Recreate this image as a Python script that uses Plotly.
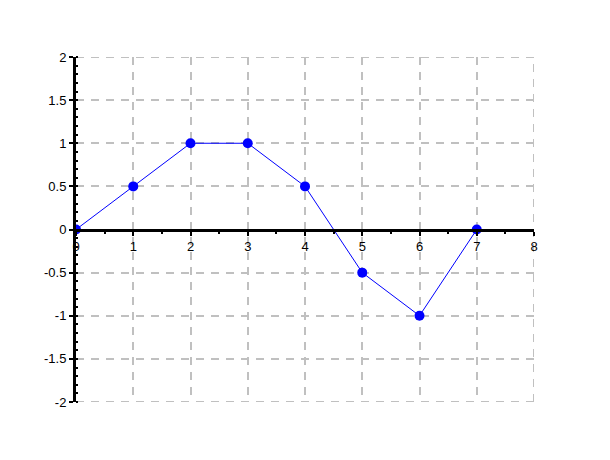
import plotly.graph_objects as go

x_vals = [0, 1, 2, 3, 4, 5, 6, 7]
y_vals = [0, 0.5, 1, 1, 0.5, -0.5, -1, 0]

x_ticks = [0, 1, 2, 3, 4, 5, 6, 7, 8]
y_ticks = [-2, -1.5, -1, -0.5, 0, 0.5, 1, 1.5, 2]
y_tick_text = ["-2", "-1.5", "-1", "-0.5", "0", "0.5", "1", "1.5", "2"]

X_RANGE = [0, 8]
Y_RANGE = [-2, 2]
GRID_COLOR = "#C0C0C0"
GRID_DASH = "8px,7px"

fig = go.Figure()
fig.add_trace(go.Scatter(
    x=x_vals, y=y_vals, mode="lines+markers",
    line=dict(color="#0000FF", width=1),
    marker=dict(color="#0000FF", size=10),
    showlegend=False, cliponaxis=True,
))

font = dict(family="Liberation Sans, Arial, sans-serif", size=13, color="#000000")

# boundary gridlines (plotly drops gridlines that sit on the plot edges)
edge_line = dict(color=GRID_COLOR, width=2, dash=GRID_DASH)
shapes = [
    dict(type="line", xref="x", yref="y", x0=X_RANGE[0], x1=X_RANGE[1],
         y0=Y_RANGE[1], y1=Y_RANGE[1], line=edge_line, layer="below"),
    dict(type="line", xref="x", yref="y", x0=X_RANGE[0], x1=X_RANGE[1],
         y0=Y_RANGE[0], y1=Y_RANGE[0], line=edge_line, layer="below"),
    dict(type="line", xref="x", yref="y", x0=X_RANGE[1], x1=X_RANGE[1],
         y0=Y_RANGE[0], y1=Y_RANGE[1], line=edge_line, layer="below"),
]

fig.update_layout(
    width=610, height=460,
    margin=dict(l=68, r=84, t=49, b=66),
    paper_bgcolor="white", plot_bgcolor="white",
    font=font,
    shapes=shapes,
    xaxis=dict(
        range=X_RANGE, tickmode="array", tickvals=x_ticks,
        ticktext=[str(v) for v in x_ticks],
        anchor="free", position=0.5,
        showline=True, linecolor="black", linewidth=3,
        ticks="outside", ticklen=4, tickwidth=2, tickcolor="black",
        showgrid=True, gridcolor=GRID_COLOR, gridwidth=2, griddash=GRID_DASH,
        zeroline=False,
        minor=dict(ticks="outside", dtick=0.5, ticklen=2, tickwidth=2,
                   tickcolor="black", showgrid=False),
        tickfont=font,
    ),
    yaxis=dict(
        range=Y_RANGE, tickmode="array", tickvals=y_ticks, ticktext=y_tick_text,
        showline=True, linecolor="black", linewidth=3,
        ticks="outside", ticklen=4, tickwidth=2, tickcolor="black",
        showgrid=True, gridcolor=GRID_COLOR, gridwidth=2, griddash=GRID_DASH,
        zeroline=False,
        minor=dict(ticks="inside", dtick=0.1, ticklen=2, tickwidth=2,
                   tickcolor="black", showgrid=False),
        tickfont=font,
    ),
)

fig.write_html("out.html")
